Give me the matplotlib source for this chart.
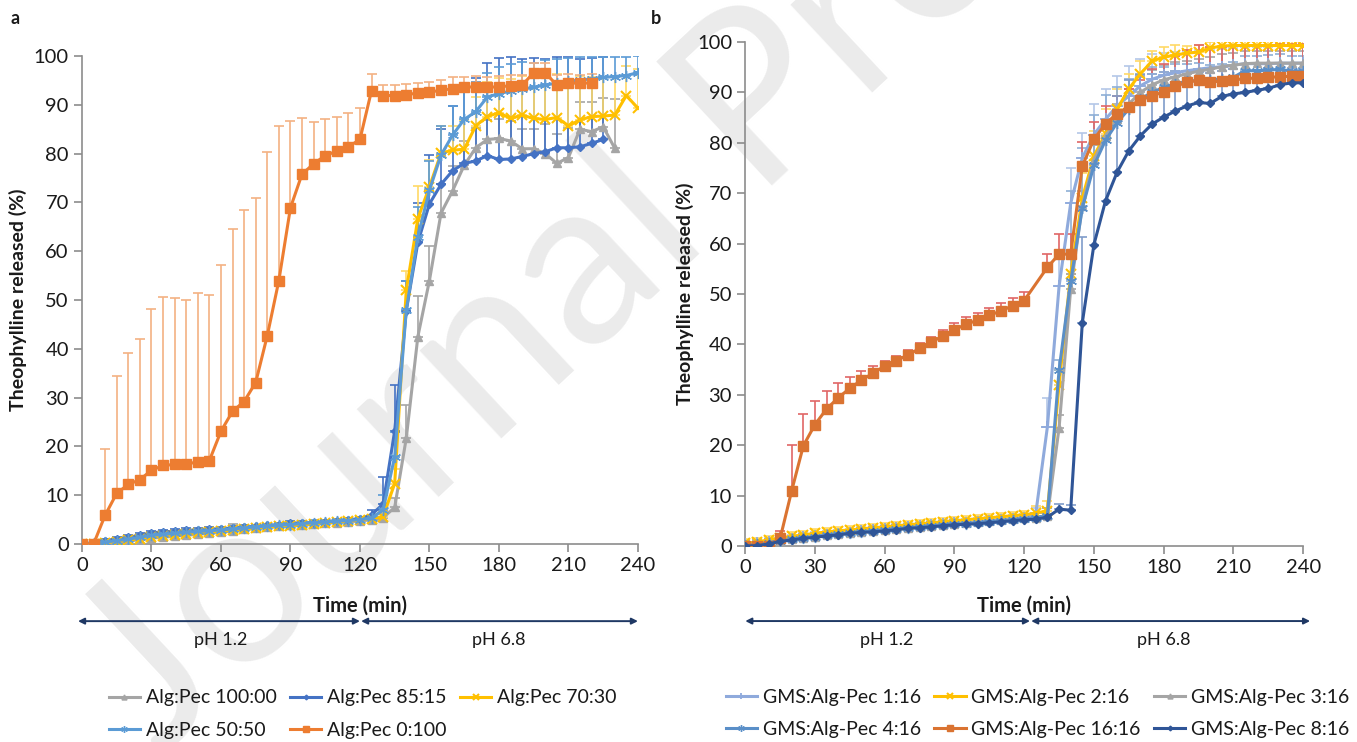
import numpy as np
import matplotlib
matplotlib.use("Agg")
import matplotlib.pyplot as plt

# =====================================================
# DATA  (panel a)
# =====================================================

waktu = list(range(0, 245, 5))

a_100_00 = [0, 0.1, 0.2, 0.4, 0.6, 0.9, 1.2, 1.4, 1.6, 1.8, 2.0, 2.2, 2.4, 2.7, 3.0,
            3.2, 3.4, 3.6, 3.8, 4.0, 4.1, 4.3, 4.4, 4.6, 4.7, 5.0, 5.4, 7.5, 21.7, 42.5,
            54.0, 67.8, 72.4, 77.6, 81.2, 82.9, 83.1, 82.6, 81.0, 81.0, 80.0, 78.0, 79.2,
            85.0, 84.5, 85.5, 81.1]
e_100_00 = [0, 0.3, 0.3, 0.3, 0.4, 0.4, 0.4, 0.5, 0.5, 0.5, 0.5, 0.6, 0.6, 1.5, 0.6,
            0.6, 0.6, 0.6, 0.6, 0.6, 0.6, 0.6, 0.6, 0.6, 0.6, 0.6, 0.8, 2.0, 6.8, 8.3,
            7.0, 6.0, 5.0, 5.0, 4.0, 4.0, 4.0, 4.0, 4.0, 4.0, 6.0, 6.0, 6.0,
            5.6, 6.0, 6.0, 10.0]

a_85_15 = [0, 0.3, 0.7, 1.1, 1.4, 1.8, 2.3, 2.5, 2.6, 2.8, 2.9, 3.1, 3.1, 3.3, 3.5,
           3.6, 3.8, 4.0, 4.3, 4.3, 4.4, 4.6, 4.8, 5.0, 5.2, 6.0, 8.2, 23.2, 47.8, 61.8,
           69.7, 73.7, 76.5, 78.0, 78.5, 79.6, 78.8, 78.9, 79.4, 80.0, 80.4, 81.2, 81.2,
           81.4, 82.1, 82.9]
e_85_15 = [0, 0.3, 0.3, 0.3, 0.4, 0.4, 0.4, 0.4, 0.4, 0.4, 0.4, 0.4, 0.4, 0.4, 0.4,
           0.4, 0.4, 0.4, 0.4, 0.4, 0.4, 0.4, 0.4, 0.4, 0.4, 1.0, 5.6, 9.4, 6.0, 8.0,
           10.0, 11.3, 13.3, 15.0, 17.0, 19.0, 20.7, 21.0, 20.0, 19.5, 19.0, 18.5, 18.5,
           18.0, 17.5, 17.0]

a_70_30 = [0, 0.1, 0.3, 0.5, 0.8, 1.1, 1.4, 1.6, 1.8, 2.0, 2.2, 2.4, 2.6, 2.8, 3.0,
           3.2, 3.4, 3.6, 3.7, 3.9, 4.1, 4.3, 4.5, 4.7, 4.9, 5.2, 5.6, 12.4, 52.0, 66.7,
           73.2, 80.1, 80.7, 80.9, 85.7, 87.6, 88.4, 87.2, 87.9, 87.2, 87.0, 87.4, 85.7,
           86.9, 87.6, 87.7, 87.9, 91.9, 89.3]
e_70_30 = [0, 0.3, 0.3, 0.3, 0.4, 0.4, 0.4, 0.4, 0.4, 0.4, 0.4, 0.4, 0.4, 0.4, 0.4,
           0.4, 0.4, 0.4, 0.4, 0.4, 0.4, 0.4, 0.4, 0.4, 0.4, 0.5, 1.0, 3.0, 4.0, 6.7,
           5.5, 5.6, 5.0, 6.0, 6.0, 7.0, 7.0, 8.0, 8.0, 9.0, 9.0, 9.0, 9.0,
           9.0, 8.0, 8.0, 8.0, 6.0, 8.0]

a_50_50 = [0, 0.2, 0.4, 0.7, 1.0, 1.4, 1.8, 2.0, 2.2, 2.4, 2.6, 2.7, 2.9, 3.1, 3.3,
           3.5, 3.7, 3.9, 4.0, 4.2, 4.4, 4.5, 4.7, 4.8, 5.0, 5.3, 7.0, 17.9, 47.9, 63.0,
           72.5, 79.7, 83.8, 87.0, 88.6, 91.6, 92.3, 92.8, 93.2, 93.6, 94.1, 94.4, 94.8,
           95.1, 95.3, 95.6, 95.8, 96.0, 96.6]
e_50_50 = [0, 0.3, 0.3, 0.4, 0.4, 0.4, 0.5, 0.5, 0.5, 0.5, 0.5, 0.5, 0.5, 0.5, 0.5,
           0.5, 0.5, 0.5, 0.5, 0.5, 0.5, 0.5, 0.5, 0.5, 0.5, 0.6, 3.0, 5.0, 6.0, 6.0,
           6.0, 6.0, 6.0, 6.0, 6.0, 5.0, 5.5, 5.5, 5.5, 5.0, 5.0, 5.0, 4.8,
           4.6, 4.5, 4.2, 4.0, 3.8, 3.4]

a_0_100 = [0, 0, 5.9, 10.4, 12.2, 13.2, 15.1, 16.1, 16.3, 16.3, 16.9, 17.1, 23.1, 27.2,
           29.2, 33.1, 42.7, 54.0, 68.9, 75.8, 77.9, 79.6, 80.5, 81.4, 82.9, 92.9, 91.9,
           91.9, 92.1, 92.4, 92.6, 93.0, 93.3, 93.6, 93.7, 93.6, 93.7, 93.9, 94.0, 96.6,
           96.6, 94.0, 94.5, 94.4, 94.5]
e_0_100 = [0, 0, 13.6, 24.1, 27.0, 28.8, 33.1, 34.6, 34.1, 33.7, 34.5, 34.0, 34.1, 37.3,
           39.2, 37.8, 37.6, 31.7, 17.8, 11.4, 8.5, 7.4, 7.0, 6.9, 6.4, 3.4, 2.1,
           2.1, 2.2, 2.1, 2.1, 2.1, 2.3, 2.0, 2.3, 2.2, 2.2, 2.2, 2.2, 2.0,
           2.0, 2.2, 1.8, 1.8, 1.8]

# =====================================================
# DATA  (panel b)
# =====================================================

b_1_16 = [0.3, 0.5, 0.8, 1.1, 1.4, 1.7, 1.9, 2.2, 2.4, 2.6, 2.9, 3.1, 3.3, 3.5, 3.7,
          3.9, 4.1, 4.3, 4.5, 4.6, 4.8, 5.0, 5.2, 5.4, 5.6, 6.5, 23.7, 51.5, 68.0, 77.0,
          81.6, 84.7, 87.3, 89.3, 91.3, 92.6, 93.4, 93.9, 94.3, 94.6, 94.9, 95.1, 95.4,
          95.7, 95.7, 95.7, 95.8, 95.8, 95.8]
f_1_16 = [0.8] * 25 + [1.0, 5.6, 6.0, 7.0, 5.0, 6.0, 6.0, 6.0, 6.0, 5.4, 5.0, 4.5, 4.2,
                       4.0, 3.8, 3.6, 3.5, 3.5, 3.4, 3.4, 3.4, 3.4, 3.4, 3.4]

b_2_16 = [0.5, 0.8, 1.2, 1.6, 1.9, 2.2, 2.5, 2.8, 3.0, 3.2, 3.4, 3.6, 3.8, 4.0, 4.2,
          4.4, 4.6, 4.8, 5.0, 5.2, 5.4, 5.6, 5.8, 6.0, 6.2, 6.5, 7.0, 32.0, 54.0, 69.0,
          77.4, 81.7, 86.7, 90.7, 93.7, 96.2, 97.0, 97.4, 97.8, 98.0, 98.8, 99.2, 99.3,
          99.3, 99.3, 99.3, 99.3, 99.3, 99.3]
f_2_16 = [0.8] * 25 + [1.5, 2.0, 3.0, 4.0, 5.0, 5.0, 5.0, 4.0, 3.0, 2.5, 2.0, 2.0, 2.0,
                       1.5, 1.5, 1.2, 1.0, 1.0, 1.0, 1.0, 1.0, 1.0, 1.0, 1.0]

b_3_16 = [0.2, 0.4, 0.7, 1.0, 1.3, 1.6, 1.8, 2.1, 2.3, 2.5, 2.8, 3.0, 3.2, 3.4, 3.6,
          3.8, 4.0, 4.2, 4.4, 4.5, 4.7, 4.9, 5.1, 5.3, 5.5, 5.6, 6.0, 23.4, 51.0, 67.5,
          76.6, 81.3, 84.7, 87.7, 90.0, 91.5, 92.5, 93.1, 93.7, 94.2, 94.6, 95.1, 95.4,
          95.7, 95.8, 95.8, 95.8, 95.8, 95.8]
f_3_16 = [0.7] * 25 + [1.0, 1.5, 2.5, 3.0, 3.0, 3.0, 3.0, 3.0, 3.0, 3.0, 3.0, 3.0, 3.0,
                       2.5, 2.5, 2.5, 2.5, 2.5, 2.5, 2.5, 2.5, 2.5, 2.5, 2.5]

b_4_16 = [0.1, 0.3, 0.6, 1.0, 1.3, 1.6, 1.8, 2.1, 2.3, 2.6, 2.8, 2.9, 3.1, 3.3, 3.6,
          3.7, 3.9, 4.1, 4.3, 4.4, 4.5, 4.7, 4.9, 5.1, 5.3, 5.6, 6.0, 34.9, 52.5, 67.0,
          75.5, 80.5, 84.0, 86.7, 88.7, 90.0, 91.0, 91.7, 92.2, 92.4, 92.5, 92.7, 93.0,
          94.3, 94.3, 94.4, 94.6, 94.2, 94.2]
f_4_16 = [0.5] * 25 + [1.0, 1.5, 2.0, 18.0, 12.0, 10.0, 9.0, 7.0, 6.0, 5.0, 5.0, 4.0,
                       4.0, 3.5, 3.5, 3.0, 3.0, 3.0, 3.0, 3.0, 3.0, 3.0, 3.0, 3.0]

b_16_16_t = list(range(0, 125, 5)) + list(range(130, 245, 5))
b_16_16 = [0, 0, 0, 1.5, 11.0, 19.9, 24.1, 27.2, 29.4, 31.3, 32.9, 34.3, 35.7, 36.8,
           37.9, 39.2, 40.4, 41.7, 42.9, 44.0, 44.8, 45.8, 46.6, 47.7, 48.7, 55.3, 57.9,
           57.9, 75.4, 80.7, 83.8, 85.8, 87.2, 88.5, 89.3, 90.1, 91.2, 92.0, 92.4, 92.0,
           92.3, 92.4, 92.8, 92.8, 93.0, 93.1, 93.2, 93.2]
f_16_16 = [0, 0, 0, 1.5, 9.0, 6.2, 4.7, 3.6, 2.9, 2.3, 1.8, 1.5, 1.0, 0.9, 0.9, 1.0,
           1.0, 1.2, 1.3, 1.4, 1.4, 1.4, 1.7, 1.6, 1.6, 2.6, 4.0, 4.0, 4.7, 3.5, 3.5,
           3.5, 3.5, 4.0, 5.4, 5.5, 6.0, 6.5, 7.0, 7.0, 6.8, 6.8, 6.6, 6.6, 6.5, 6.5,
           6.5, 6.5]

b_8_16 = [0, 0.07, 0.4, 0.9, 1.2, 1.5, 1.7, 2.0, 2.2, 2.5, 2.7, 2.8, 3.0, 3.2, 3.5,
          3.6, 3.8, 4.0, 4.2, 4.3, 4.4, 4.6, 4.8, 5.0, 5.2, 5.3, 5.7, 7.3, 7.1, 44.3,
          59.8, 68.5, 74.2, 78.4, 81.4, 83.7, 85.1, 86.3, 87.3, 88.0, 87.8, 89.2, 89.7,
          90.0, 90.4, 90.8, 91.5, 91.9, 91.9]
f_8_16 = [0.4] * 25 + [0.5, 0.6, 1.0, 1.0, 17.0, 16.0, 15.0, 15.0, 14.0, 12.0, 10.0,
                       9.0, 8.0, 7.0, 6.0, 6.0, 5.0, 5.0, 4.0, 4.0, 4.0, 3.0, 3.0, 3.0]

# =====================================================
# STYLE
# =====================================================

plt.rcParams['font.family'] = ['Lato', 'DejaVu Sans']

teks = '#1a1a1a'
garis_sumbu = '#8c8c8c'
panah = '#1F3864'

fig = plt.figure(figsize=(13.57, 7.42), dpi=100)

ax_a = fig.add_axes([0.0604, 0.2668, 0.4097, 0.6577])
ax_b = fig.add_axes([0.5492, 0.2642, 0.4111, 0.6792])

# watermark (di belakang semua)
fig.text(0.118, -0.02, 'Journal Pre-proof', rotation=43, rotation_mode='anchor',
         ha='left', va='baseline', fontsize=170, color='#ebebeb', zorder=-10)


def seri(ax, t, y, e, warna, mk, ms, ecol, label, mew=1.0):
    n = len(y)
    t = t[:n]
    ax.errorbar(t, y, yerr=[np.zeros(n), e], fmt='none', ecolor=ecol,
                elinewidth=1.2, capsize=3.5, capthick=1.2, zorder=2)
    h, = ax.plot(t, y, color=warna, lw=2.2, marker=mk, markersize=ms,
                 markeredgewidth=mew, markeredgecolor=warna, label=label, zorder=3)
    return h


def rapikan(ax, ylab_x):
    ax.patch.set_alpha(0)
    ax.set_xlim(0, 240)
    ax.set_ylim(0, 100)
    ax.set_xticks(range(0, 241, 30))
    ax.set_yticks(range(0, 101, 10))
    for s in ['top', 'right']:
        ax.spines[s].set_visible(False)
    for s in ['left', 'bottom']:
        ax.spines[s].set_color(garis_sumbu)
        ax.spines[s].set_linewidth(1.2)
    ax.tick_params(axis='both', colors=garis_sumbu, labelcolor=teks,
                   labelsize=14.5, length=6, width=1.2)
    ax.text(ylab_x, 0.5, 'Theophylline released (%)', transform=ax.transAxes,
            rotation=90, ha='center', va='center', fontsize=14,
            fontweight='bold', color=teks)


asterisk = (6, 2, 0)

# =====================================================
# PANEL a
# =====================================================

h1 = seri(ax_a, waktu, a_100_00, e_100_00, '#A5A5A5', '^', 6, '#A5A5A5', 'Alg:Pec 100:00')
h2 = seri(ax_a, waktu, a_85_15, e_85_15, '#4472C4', 'D', 4, '#4472C4', 'Alg:Pec 85:15')
h3 = seri(ax_a, waktu, a_70_30, e_70_30, '#FFC000', 'x', 7, '#FFD966', 'Alg:Pec 70:30', 1.5)
h4 = seri(ax_a, waktu, a_50_50, e_50_50, '#5B9BD5', asterisk, 8, '#5B9BD5', 'Alg:Pec 50:50', 1.0)
h5 = seri(ax_a, waktu, a_0_100, e_0_100, '#ED7D31', 's', 7, '#F4B183', 'Alg:Pec 0:100')

rapikan(ax_a, -0.115)

tr = ax_a.get_xaxis_transform()
ax_a.text(120, -0.127, 'Time (min)', transform=tr, ha='center', va='center',
          fontsize=14.5, fontweight='bold', color=teks)
for x0, x1 in [(-1.7, 120), (120.5, 240)]:
    ax_a.annotate('', xy=(x1, -0.158), xytext=(x0, -0.158), xycoords=tr,
                  textcoords=tr, annotation_clip=False,
                  arrowprops=dict(arrowstyle='<|-|>', color=panah, lw=1.4,
                                  mutation_scale=9, shrinkA=0, shrinkB=0))
ax_a.text(60, -0.197, 'pH 1.2', transform=tr, ha='center', va='center',
          fontsize=13, color=teks)
ax_a.text(180, -0.197, 'pH 6.8', transform=tr, ha='center', va='center',
          fontsize=13, color=teks)

ax_a.legend([h1, h4, h2, h5, h3],
            ['Alg:Pec 100:00', 'Alg:Pec 50:50', 'Alg:Pec 85:15',
             'Alg:Pec 0:100', 'Alg:Pec 70:30'],
            ncol=3, loc='upper left', bbox_to_anchor=(0.048, -0.298),
            frameon=False, fontsize=14, handlelength=1.6, handletextpad=0.3,
            columnspacing=0.7, labelspacing=0.8, borderaxespad=0,
            borderpad=0, labelcolor=teks, markerscale=0.6)

# =====================================================
# PANEL b
# =====================================================

g1 = seri(ax_b, waktu, b_1_16, f_1_16, '#8FAADC', '+', 8, '#B4C7E7', 'GMS:Alg-Pec 1:16', 1.3)
g2 = seri(ax_b, waktu, b_2_16, f_2_16, '#FFC000', 'x', 7, '#FFD966', 'GMS:Alg-Pec 2:16', 1.5)
g3 = seri(ax_b, waktu, b_3_16, f_3_16, '#A5A5A5', '^', 6, '#A5A5A5', 'GMS:Alg-Pec 3:16')
g4 = seri(ax_b, waktu, b_4_16, f_4_16, '#5A8FC8', asterisk, 8, '#8EAFD6', 'GMS:Alg-Pec 4:16')
g5 = seri(ax_b, b_16_16_t, b_16_16, f_16_16, '#DA7331', 's', 7, '#E06666', 'GMS:Alg-Pec 16:16')
g6 = seri(ax_b, waktu, b_8_16, f_8_16, '#2F5597', 'D', 4, '#7F9CC9', 'GMS:Alg-Pec 8:16')

rapikan(ax_b, -0.1075)

tr = ax_b.get_xaxis_transform()
ax_b.text(120, -0.119, 'Time (min)', transform=tr, ha='center', va='center',
          fontsize=14.5, fontweight='bold', color=teks)
for x0, x1 in [(0, 122.5), (123, 243)]:
    ax_b.annotate('', xy=(x1, -0.149), xytext=(x0, -0.149), xycoords=tr,
                  textcoords=tr, annotation_clip=False,
                  arrowprops=dict(arrowstyle='<|-|>', color=panah, lw=1.4,
                                  mutation_scale=9, shrinkA=0, shrinkB=0))
ax_b.text(61, -0.187, 'pH 1.2', transform=tr, ha='center', va='center',
          fontsize=13, color=teks)
ax_b.text(180, -0.187, 'pH 6.8', transform=tr, ha='center', va='center',
          fontsize=13, color=teks)

ax_b.legend([g1, g4, g2, g5, g3, g6],
            ['GMS:Alg-Pec 1:16', 'GMS:Alg-Pec 4:16', 'GMS:Alg-Pec 2:16',
             'GMS:Alg-Pec 16:16', 'GMS:Alg-Pec 3:16', 'GMS:Alg-Pec 8:16'],
            ncol=3, loc='upper left', bbox_to_anchor=(-0.035, -0.283),
            frameon=False, fontsize=14, handlelength=1.6, handletextpad=0.3,
            columnspacing=0.7, labelspacing=0.8, borderaxespad=0,
            borderpad=0, labelcolor=teks, markerscale=0.6)

fig.text(15 / 1357, 1 - 18 / 742, 'a', fontsize=13, fontweight='bold',
         ha='center', va='center', color=teks)
fig.text(656 / 1357, 1 - 18 / 742, 'b', fontsize=13, fontweight='bold',
         ha='center', va='center', color=teks)

fig.savefig('out.png', dpi=100)
